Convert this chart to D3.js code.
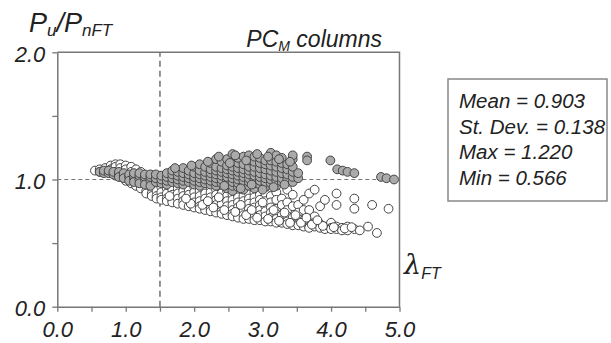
<!DOCTYPE html>
<html>
<head>
<meta charset="utf-8">
<script src="https://cdn.jsdelivr.net/npm/d3@7"></script>
<style>
  body { margin: 0; background: #fff; }
  svg { display: block; font-family: "Liberation Sans", Arial, sans-serif; }
</style>
</head>
<body>
<div id="chart"></div>
<script>
`use strict`;

// white (open) markers, one entry per lambda column: [x, [y...]]
const whiteCols = [
  [0.55, [1.07]], [0.62, [1.08, 1.06]], [0.70, [1.09, 1.06]], [0.78, [1.11, 1.08, 1.05]],
  [0.85, [1.12, 1.10, 1.06, 1.03]], [0.92, [1.12, 1.09, 1.05, 1.02]], [1.00, [1.11, 1.08, 1.03, 0.99]],
  [1.08, [1.10, 1.06, 1.01, 0.97]], [1.15, [1.08, 1.04, 0.99, 0.95]], [1.22, [1.06, 1.02, 0.97, 0.93]],
  [1.30, [1.03, 0.99, 0.95, 0.91, 0.89]], [1.38, [1.01, 0.97, 0.93, 0.89, 0.87]], [1.45, [0.99, 0.95, 0.91, 0.87, 0.85]],
  [1.52, [0.98, 0.94, 0.90, 0.86, 0.84]], [1.60, [0.97, 0.93, 0.89, 0.85, 0.83]], [1.68, [0.96, 0.92, 0.88, 0.84, 0.82]],
  [1.76, [0.97, 0.93, 0.89, 0.85, 0.81]], [1.84, [0.95, 0.91, 0.87, 0.83, 0.80]], [1.92, [0.96, 0.92, 0.88, 0.84, 0.79]],
  [2.00, [0.94, 0.90, 0.86, 0.82, 0.78]], [2.08, [0.95, 0.91, 0.87, 0.83, 0.79, 0.77]], [2.16, [0.93, 0.89, 0.85, 0.81, 0.78, 0.76]],
  [2.24, [0.94, 0.90, 0.86, 0.82, 0.77, 0.75]], [2.32, [0.92, 0.88, 0.84, 0.80, 0.76, 0.74]], [2.40, [0.93, 0.89, 0.85, 0.81, 0.75, 0.73]],
  [2.48, [0.91, 0.87, 0.83, 0.79, 0.74, 0.72]], [2.56, [0.92, 0.88, 0.84, 0.80, 0.76, 0.73, 0.71]], [2.64, [0.90, 0.86, 0.82, 0.78, 0.74, 0.70]],
  [2.72, [0.91, 0.87, 0.83, 0.79, 0.75, 0.72, 0.69]], [2.80, [0.89, 0.85, 0.81, 0.77, 0.73, 0.69]], [2.88, [0.90, 0.86, 0.82, 0.78, 0.74, 0.71, 0.68]],
  [2.96, [0.88, 0.84, 0.80, 0.76, 0.72, 0.68]], [3.04, [0.89, 0.83, 0.79, 0.75, 0.71, 0.67]], [3.12, [0.87, 0.82, 0.78, 0.74, 0.70, 0.67]],
  [3.20, [0.90, 0.84, 0.77, 0.73, 0.69, 0.66]], [3.28, [0.85, 0.80, 0.72, 0.68, 0.66]], [3.36, [0.92, 0.82, 0.76, 0.71, 0.67, 0.65]],
  [3.44, [0.88, 0.79, 0.70, 0.66, 0.64]], [3.52, [0.80, 0.74, 0.69, 0.65, 0.64]], [3.60, [0.84, 0.76, 0.68, 0.64, 0.63]],
  [3.68, [0.89, 0.76, 0.67, 0.63, 0.62]], [3.76, [0.92, 0.71, 0.66, 0.63]], [3.84, [0.79, 0.65, 0.62]],
  [3.91, [0.84, 0.63, 0.61]], [4.00, [0.66, 0.62, 0.61]], [4.08, [0.89, 0.80, 0.63, 0.61]],
  [4.16, [0.62, 0.60]], [4.24, [0.63, 0.60]], [4.34, [0.85, 0.77, 0.61]], [4.42, [0.60]],
  [4.54, [0.63]], [4.60, [0.80]], [4.67, [0.58]], [4.84, [0.77]]
];

// extra open markers off the column lattice (dense lower edge and scatter)
const whiteExtra = [
  [1.95, 0.81], [2.12, 0.80], [2.28, 0.78], [2.44, 0.76], [2.60, 0.745], [2.76, 0.72], [2.92, 0.70],
  [3.08, 0.69], [3.24, 0.675], [3.40, 0.66], [3.56, 0.66], [3.72, 0.645], [3.88, 0.635], [4.04, 0.625],
  [4.20, 0.615], [4.30, 0.625], [1.64, 0.87], [1.88, 0.85], [2.20, 0.83], [2.36, 0.86], [2.68, 0.80],
  [2.84, 0.76], [3.00, 0.82], [3.16, 0.76], [3.32, 0.74], [3.48, 0.72], [3.64, 0.70], [3.80, 0.68]
];

// grey (filled) markers
const greyCols = [
  [0.62, [1.06]], [0.68, [1.05, 1.07]], [0.75, [1.05, 1.07]], [0.82, [1.04, 1.06]],
  [0.90, [1.04, 1.06, 1.02]], [0.97, [1.03, 1.05, 1.01]], [1.05, [1.02, 1.04, 0.99]],
  [1.12, [1.01, 1.03, 0.98, 1.05]], [1.20, [1.00, 1.03, 0.97, 1.05]], [1.28, [1.00, 1.02, 0.96, 1.04]],
  [1.36, [0.99, 1.02, 0.95, 1.04]], [1.44, [0.98, 1.01, 1.04]], [1.52, [0.97, 1.00, 1.03]],
  [1.60, [0.96, 0.99, 1.02, 1.05]], [1.68, [0.98, 1.01, 1.04, 1.07]], [1.76, [0.97, 1.00, 1.03, 1.06]],
  [1.84, [0.96, 0.99, 1.02, 1.05, 1.09]], [1.92, [0.98, 1.01, 1.04, 1.07]], [2.00, [0.96, 0.99, 1.02, 1.05, 1.10]],
  [2.08, [0.95, 0.98, 1.01, 1.04, 1.07, 1.12]], [2.16, [0.97, 1.00, 1.03, 1.06, 1.10]], [2.24, [0.96, 0.99, 1.02, 1.05, 1.08, 1.13]],
  [2.32, [0.95, 0.98, 1.01, 1.04, 1.07, 1.10, 1.16]], [2.40, [0.97, 1.00, 1.03, 1.06, 1.09, 1.14]],
  [2.48, [0.93, 0.96, 0.99, 1.02, 1.05, 1.08, 1.11, 1.16]], [2.56, [0.91, 0.95, 0.98, 1.01, 1.04, 1.07, 1.10, 1.14, 1.20]],
  [2.64, [0.94, 0.97, 1.00, 1.03, 1.06, 1.09, 1.13, 1.17]], [2.72, [0.92, 0.96, 0.99, 1.02, 1.05, 1.08, 1.12, 1.18]],
  [2.80, [0.95, 0.98, 1.01, 1.04, 1.07, 1.10, 1.15, 1.19]], [2.88, [0.93, 0.97, 1.00, 1.03, 1.06, 1.10, 1.14, 1.18]],
  [2.96, [0.96, 0.99, 1.02, 1.05, 1.09, 1.13, 1.17]], [3.04, [0.94, 0.98, 1.01, 1.04, 1.08, 1.12, 1.15]],
  [3.12, [0.97, 1.00, 1.03, 1.07, 1.11, 1.15, 1.21]], [3.20, [0.95, 0.99, 1.02, 1.06, 1.10, 1.14, 1.19]],
  [3.28, [0.98, 1.01, 1.05, 1.09, 1.13, 1.17]], [3.36, [1.00, 1.04, 1.08, 1.12]],
  [3.44, [0.98, 1.02, 1.06, 1.10, 1.16, 1.19]], [3.52, [1.01, 1.05]], [3.65, [1.18, 1.15]],
  [3.99, [1.15]], [4.09, [1.08]], [4.17, [1.07]], [4.24, [1.06]], [4.34, [1.05]],
  [4.73, [1.02]], [4.81, [1.01]], [4.92, [1.00]]
];

const greyExtra = [
  [1.72, 1.09], [1.96, 1.11], [2.20, 1.14], [2.36, 1.18], [2.52, 1.13], [2.60, 1.19], [2.76, 1.15],
  [2.92, 1.20], [3.08, 1.18], [3.24, 1.16], [3.40, 1.14], [2.44, 0.95], [2.68, 0.93], [2.84, 0.96],
  [3.00, 0.92], [3.16, 0.94], [3.32, 0.96]
];

const xTicks = [0, 0.5, 1, 1.5, 2, 2.5, 3, 3.5, 4, 4.5, 5];
const yTicks = [0, 0.5, 1, 1.5, 2];
const statLines = [`Mean = 0.903`, `St. Dev. = 0.138`, `Max = 1.220`, `Min = 0.566`];
const refX = 1.5, refY = 1.0;

let flat = cols => cols.flatMap(([x, ys]) => ys.map(y => [x, y]));

(function () {

  const W = 611, H = 343;
  const ink = `#222`, axisCol = `#777`;

  let x = d3.scaleLinear([0, 5], [57.3, 399.5]),
    y = d3.scaleLinear([0, 2], [306.7, 52.3]);

  let svg = d3.select(`#chart`).append(`svg`)
    .attr(`width`, W)
    .attr(`height`, H);

  // reference lines
  svg.append(`line`)
    .attr(`x1`, x(refX)).attr(`x2`, x(refX))
    .attr(`y1`, y(0)).attr(`y2`, y(2))
    .attr(`stroke`, `#666`).attr(`stroke-width`, 1.4)
    .attr(`stroke-dasharray`, `6,4`);

  svg.append(`line`)
    .attr(`x1`, x(0)).attr(`x2`, x(5))
    .attr(`y1`, y(refY)).attr(`y2`, y(refY))
    .attr(`stroke`, axisCol).attr(`stroke-width`, 1.2)
    .attr(`stroke-dasharray`, `4,3`);

  // markers
  let pts = svg.append(`g`);

  let dots = (cls, data, fill) => {
    pts.selectAll(`circle.${cls}`).data(data)
      .enter()
      .append(`circle`)
      .attr(`class`, cls)
      .attr(`cx`, d => x(d[0]))
      .attr(`cy`, d => y(d[1]))
      .attr(`r`, 4.4)
      .attr(`fill`, fill)
      .attr(`stroke`, `#444`)
      .attr(`stroke-width`, 1);
  }

  dots(`w`, flat(whiteCols).concat(whiteExtra), `#fff`);
  dots(`g`, flat(greyCols).concat(greyExtra), `#aaa`);

  // frame top / right
  svg.append(`path`)
    .attr(`d`, `M${x(0)},${y(2)}H${x(5)}V${y(0)}`)
    .attr(`fill`, `none`)
    .attr(`stroke`, axisCol)
    .attr(`stroke-width`, 1.5);

  let fmt = d => d % 1 === 0 ? d3.format(`.1f`)(d) : ``;

  let gx = svg.append(`g`)
    .attr(`transform`, `translate(0,${y(0)})`)
    .call(d3.axisBottom(x).tickValues(xTicks).tickSize(5).tickSizeOuter(0).tickFormat(fmt));

  let gy = svg.append(`g`)
    .attr(`transform`, `translate(${x(0)},0)`)
    .call(d3.axisLeft(y).tickValues(yTicks).tickSize(5).tickSizeOuter(0).tickFormat(fmt));

  [gx, gy].forEach(g => {
    g.select(`.domain`).attr(`stroke`, axisCol).attr(`stroke-width`, 1.5);
    g.selectAll(`.tick line`).attr(`stroke`, axisCol).attr(`stroke-width`, 1.3);
    g.selectAll(`text`)
      .attr(`fill`, ink)
      .style(`font-size`, `22px`)
      .style(`font-style`, `italic`)
      .style(`font-family`, `"Liberation Sans", Arial, sans-serif`);
  });

  gx.selectAll(`text`).attr(`y`, 30.5).attr(`dy`, 0);
  gy.selectAll(`text`).attr(`x`, -12).attr(`dy`, `.4em`);

  // axis titles
  let ylab = svg.append(`text`)
    .attr(`x`, 29).attr(`y`, 32)
    .attr(`fill`, ink)
    .style(`font-size`, `27px`)
    .style(`font-style`, `italic`);
  ylab.append(`tspan`).text(`P`);
  ylab.append(`tspan`).attr(`dy`, 4).style(`font-size`, `17px`).text(`u`);
  ylab.append(`tspan`).attr(`dy`, -4).text(`/P`);
  ylab.append(`tspan`).attr(`dy`, 4).style(`font-size`, `17px`).text(`nFT`);

  let xlab = svg.append(`text`)
    .attr(`x`, 404).attr(`y`, 274)
    .attr(`fill`, ink)
    .style(`font-size`, `27px`)
    .style(`font-style`, `italic`);
  xlab.append(`tspan`).style(`font-family`, `"DejaVu Serif", serif`).text(`λ`);
  xlab.append(`tspan`).attr(`dy`, 5).style(`font-size`, `16px`).text(`FT`);

  let title = svg.append(`text`)
    .attr(`x`, 382).attr(`y`, 47)
    .attr(`text-anchor`, `end`)
    .attr(`fill`, ink)
    .style(`font-size`, `23px`)
    .style(`font-style`, `italic`);
  title.append(`tspan`).text(`PC`);
  title.append(`tspan`).attr(`dy`, 4).style(`font-size`, `14px`).text(`M`);
  title.append(`tspan`).attr(`dy`, -4).text(` columns`);

  // stats box
  svg.append(`rect`)
    .attr(`x`, 448).attr(`y`, 79)
    .attr(`width`, 159).attr(`height`, 122)
    .attr(`fill`, `#fff`)
    .attr(`stroke`, `#888`)
    .attr(`stroke-width`, 1.5);

  svg.append(`g`).selectAll(`text`).data(statLines)
    .enter()
    .append(`text`)
    .attr(`x`, 459)
    .attr(`y`, (d, i) => 108 + i * 25.5)
    .attr(`fill`, ink)
    .style(`font-size`, `20.5px`)
    .style(`font-style`, `italic`)
    .text(d => d);

})();
</script>
</body>
</html>
